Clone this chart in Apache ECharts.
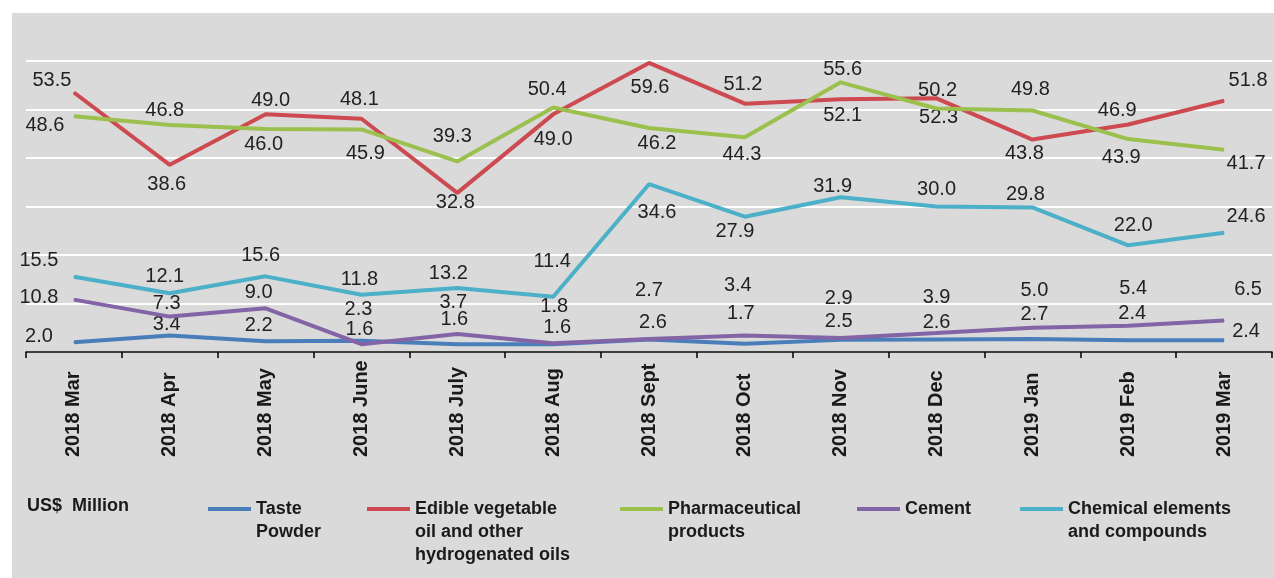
<!DOCTYPE html>
<html>
<head>
<meta charset="utf-8">
<script src="https://cdn.jsdelivr.net/npm/echarts@6/dist/echarts.min.js"></script>
<style>
  html, body { margin: 0; padding: 0; background: #ffffff; }
  #chart { width: 1274px; height: 578px; }
</style>
</head>
<body>
<div id="chart"></div>
<script>
// Monthly exports, US$ million
const months = ['2018 Mar', '2018 Apr', '2018 May', '2018 June', '2018 July', '2018 Aug',
  '2018 Sept', '2018 Oct', '2018 Nov', '2018 Dec', '2019 Jan', '2019 Feb', '2019 Mar'];

const tastePowder = [2.0, 3.4, 2.2, 2.3, 1.6, 1.6, 2.6, 1.7, 2.5, 2.6, 2.7, 2.4, 2.4];
const edibleOil = [53.5, 38.6, 49.0, 48.1, 32.8, 49.0, 59.6, 51.2, 52.1, 52.3, 43.8, 46.9, 51.8];
const pharmaceutical = [48.6, 46.8, 46.0, 45.9, 39.3, 50.4, 46.2, 44.3, 55.6, 50.2, 49.8, 43.9, 41.7];
const cement = [10.8, 7.3, 9.0, 1.6, 3.7, 1.8, 2.7, 3.4, 2.9, 3.9, 5.0, 5.4, 6.5];
const chemicals = [15.5, 12.1, 15.6, 11.8, 13.2, 11.4, 34.6, 27.9, 31.9, 30.0, 29.8, 22.0, 24.6];

const seriesNames = [
  'Taste\nPowder',
  'Edible vegetable\noil and other\nhydrogenated oils',
  'Pharmaceutical\nproducts',
  'Cement',
  'Chemical elements\nand compounds'
];
const seriesColors = ['#4A7EBB', '#CC4A50', '#9BC04E', '#8364A6', '#4BB0C8'];

// Value-label nudges (px from the point) so labels clear the crossing lines
const labelShift = [
  [[-35,-6],[-3,-11],[-7,-16],[-3,-31],[-3,-25],[4,-17],[4,-17],[-4,-30],[-2,-18],[0,-17],[2,-24],[4,-27],[22,-9]],
  [[-22,-12],[-3,20],[5,-14],[-2,-19],[-2,10],[0,25],[1,25],[-2,-19],[2,16],[2,19],[-8,14],[-11,-14],[24,-20]],
  [[-29,9],[-5,-15],[-2,16],[4,24],[-5,-25],[-6,-18],[8,16],[-3,17],[2,-13],[1,-18],[-2,-21],[-7,18],[22,14]],
  [[-35,-2],[-3,-13],[-7,-16],[-2,-15],[-4,-32],[1,-37],[0,-48],[-7,-50],[-2,-39],[0,-36],[2,-37],[5,-37],[24,-31]],
  [[-35,-16],[-5,-17],[-5,-21],[-2,-15],[-9,-14],[-1,-35],[8,28],[-10,15],[-8,-11],[0,-17],[-7,-13],[5,-20],[22,-16]]
];

const seriesValues = [tastePowder, edibleOil, pharmaceutical, cement, chemicals];

const FONT = '"Liberation Sans", Arial, sans-serif';

function buildSeries(idx) {
  return {
    name: seriesNames[idx],
    type: 'line',
    data: seriesValues[idx].map((v, i) => ({
      value: v,
      label: { offset: labelShift[idx][i] }
    })),
    symbol: 'circle',
    symbolSize: 1,
    showSymbol: true,
    lineStyle: { width: 4, color: seriesColors[idx] },
    itemStyle: { color: seriesColors[idx] },
    label: {
      show: true,
      position: 'inside',
      color: '#222222',
      fontFamily: FONT,
      fontSize: 20,
      formatter: p => p.value.toFixed(1)
    },
    emphasis: { disabled: true },
    z: 2 + idx
  };
}

// One legend block per series. Blank lines ahead of the name make the
// text block symmetric about its first line, so the key sits level with it.
const LINE_H = 23;
const legendLeft = [208, 367, 620, 857, 1020];
const KEY_Y = 509;
const legends = seriesNames.map((name, i) => {
  const lines = name.split('\n').length;
  const total = 2 * lines - 1;
  return {
    data: [name],
    left: legendLeft[i],
    top: KEY_Y - total * LINE_H / 2,
    padding: 0,
    icon: 'rect',
    itemWidth: 43,
    itemHeight: 4,
    itemGap: 0,
    formatter: n => '\n'.repeat(lines - 1) + n,
    textStyle: {
      fontFamily: FONT,
      fontWeight: 'bold',
      fontSize: 18,
      color: '#1a1a1a',
      lineHeight: LINE_H
    },
    selectedMode: false
  };
});

const chart = echarts.init(document.getElementById('chart'), null, { renderer: 'canvas' });
chart.setOption({
  animation: false,
  backgroundColor: '#dadada',
  graphic: [
    { type: 'rect', shape: { x: 0, y: 0, width: 1274, height: 13 }, style: { fill: '#ffffff' }, silent: true },
    { type: 'rect', shape: { x: 0, y: 0, width: 12, height: 578 }, style: { fill: '#ffffff' }, silent: true }
  ],
  title: {
    text: 'US$  Million',
    left: 27,
    top: 497,
    padding: 0,
    textStyle: { fontFamily: FONT, fontWeight: 'bold', fontSize: 18, color: '#1a1a1a' }
  },
  legend: legends,
  grid: { left: 26, right: 2, top: 61, bottom: 226 },
  xAxis: {
    type: 'category',
    data: months,
    boundaryGap: true,
    axisLine: { show: true, lineStyle: { color: '#000000', width: 1.5 } },
    axisTick: { show: true, length: 6, lineStyle: { color: '#000000', width: 1.5 } },
    axisLabel: {
      rotate: 90,
      align: 'left',
      verticalAlign: 'middle',
      margin: 105,
      interval: 0,
      fontFamily: FONT,
      fontWeight: 'bold',
      fontSize: 20,
      color: '#1a1a1a'
    }
  },
  yAxis: {
    type: 'value',
    min: 0,
    max: 60,
    interval: 10,
    axisLine: { show: false },
    axisTick: { show: false },
    axisLabel: { show: false },
    splitLine: { show: true, lineStyle: { color: '#ffffff', width: 2 } }
  },
  series: [0, 1, 2, 3, 4].map(buildSeries)
});
</script>
</body>
</html>
